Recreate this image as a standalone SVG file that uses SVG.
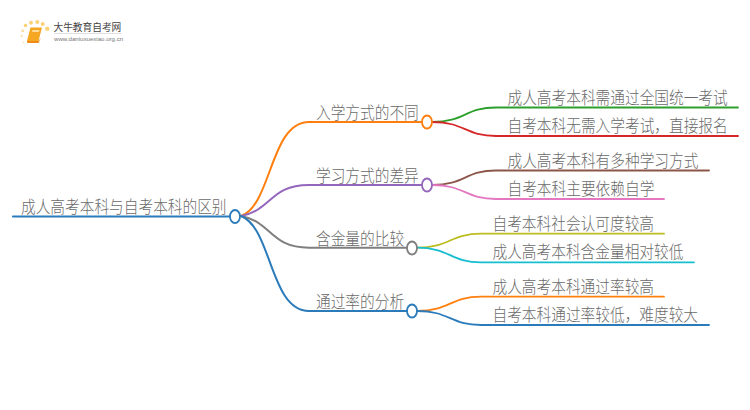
<svg xmlns="http://www.w3.org/2000/svg" width="750" height="410" viewBox="0 0 750 410">
<style>
text{font-family:"Noto Sans CJK SC","Noto Sans",sans-serif;font-size:14.700px;fill:#6a6a6a;font-weight:300}
.c{fill:none;stroke-linecap:round}
.m{stroke-width:2}
.l{stroke-width:1.8}
.n{fill:#fff;stroke-width:1.8}
.d{fill:#fbd27a}
</style>
<rect width="750" height="410" fill="#fff"/>
<g id="logo">
<circle class="d" cx="23.500" cy="42.500" r="1" opacity=".5"/><circle class="d" cx="21.700" cy="36" r="1.200" opacity=".6"/><circle class="d" cx="22.700" cy="30.700" r="1.500" opacity=".7"/><circle class="d" cx="25.500" cy="25.500" r="1.800"/><circle class="d" cx="31" cy="22.700" r="2"/><circle class="d" cx="37.300" cy="22" r="2"/><circle class="d" cx="42.700" cy="24" r="2"/><circle class="d" cx="47.300" cy="28.700" r="2.200"/>
<path d="M30.500 27.500H42L38.500 41H27Z" fill="#f5a623"/><path d="M27 41H38.500L41 37.500L38.500 43H28Q26.500 43 27 41Z" fill="#ef8a17"/><path d="M32.500 30H39.500L39 32H32Z" fill="#ffdc97"/>
<text x="53.500" y="31" style="font-size:9.700px;font-weight:400;fill:#444">大牛教育自考网</text>
<rect x="54" y="33" width="67" height=".6" fill="#ccc"/>
<text x="54" y="41" style="font-size:6.100px;font-weight:400;fill:#777;font-family:'Liberation Sans',sans-serif">www.daniuxuexiao.org.cn</text>
</g>
<g id="connectors" class="c">
<path stroke="#2b7bba" d="M13 216.500H235" style="stroke-width:2.200"/>
<path class="m" stroke="#ff7f0e" d="M241 216C272 205 270 122 309 122H427"/>
<path class="m" stroke="#9467bd" d="M241 216C272 210 270 185 309 185H427"/>
<path class="m" stroke="#7f7f7f" d="M241 216C272 222 270 247.700 309 247.700H412"/>
<path class="m" stroke="#2b7bba" d="M241 216C272 228 270 311 309 311H412"/>
<path class="l" stroke="#2ca02c" d="M432 122C465 122 465 107.500 496 107.500H738"/>
<path class="l" stroke="#d62728" d="M432 122C465 122 465 136 496 136H738"/>
<path class="l" stroke="#8c564b" d="M432 185C465 185 465 170.500 496 170.500H709"/>
<path class="l" stroke="#e377c2" d="M432 185C465 185 465 199 496 199H664"/>
<path class="l" stroke="#bcbd22" d="M417 247.700C450 247.700 450 233.700 481 233.700H664"/>
<path class="l" stroke="#17becf" d="M417 247.700C450 247.700 450 262.300 481 262.300H694"/>
<path class="l" stroke="#ff7f0e" d="M417 311C450 311 450 296.700 481 296.700H664"/>
<path class="l" stroke="#2b7bba" d="M417 311C450 311 450 325 481 325H709"/>
</g>
<g id="root"><text transform="translate(21 213) scale(1 1.157)">成人高考本科与自考本科的区别</text><ellipse class="n" cx="235" cy="216.500" rx="5" ry="6.500" stroke="#2b7bba"/></g>
<g id="b1"><text transform="translate(316 119) scale(1 1.157)">入学方式的不同</text><ellipse class="n" cx="427" cy="122" rx="5" ry="6.500" stroke="#ff7f0e"/></g>
<g id="b2"><text transform="translate(316 182) scale(1 1.157)">学习方式的差异</text><ellipse class="n" cx="427" cy="185" rx="5" ry="6.500" stroke="#9467bd"/></g>
<g id="b3"><text transform="translate(316 244.500) scale(1 1.157)">含金量的比较</text><ellipse class="n" cx="412" cy="248" rx="5" ry="6.500" stroke="#7f7f7f"/></g>
<g id="b4"><text transform="translate(316 307.500) scale(1 1.157)">通过率的分析</text><ellipse class="n" cx="412" cy="311" rx="5" ry="6.500" stroke="#2b7bba"/></g>
<g id="l1"><text transform="translate(507.500 104) scale(1 1.157)">成人高考本科需通过全国统一考试</text></g>
<g id="l2"><text transform="translate(507.500 132) scale(1 1.157)">自考本科无需入学考试，直接报名</text></g>
<g id="l3"><text transform="translate(507.500 167) scale(1 1.157)">成人高考本科有多种学习方式</text></g>
<g id="l4"><text transform="translate(507.500 195) scale(1 1.157)">自考本科主要依赖自学</text></g>
<g id="l5"><text transform="translate(492.500 230) scale(1 1.157)">自考本科社会认可度较高</text></g>
<g id="l6"><text transform="translate(492.500 258) scale(1 1.157)">成人高考本科含金量相对较低</text></g>
<g id="l7"><text transform="translate(492.500 293) scale(1 1.157)">成人高考本科通过率较高</text></g>
<g id="l8"><text transform="translate(492.500 321) scale(1 1.157)">自考本科通过率较低，难度较大</text></g>
</svg>
